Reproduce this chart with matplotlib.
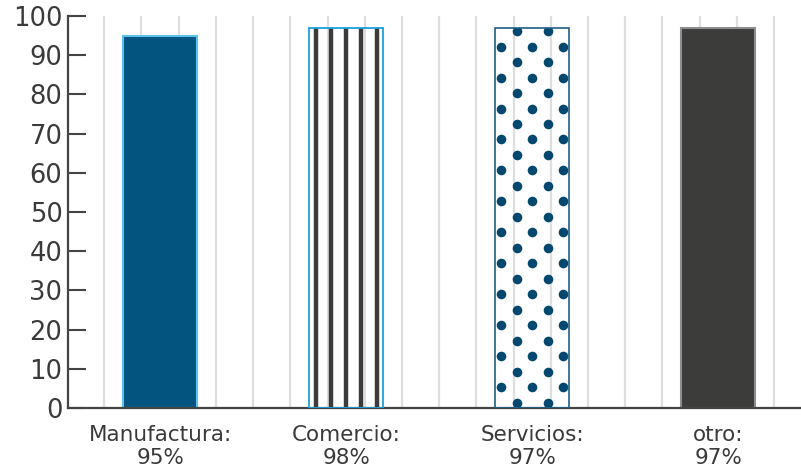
import matplotlib
matplotlib.use("Agg")
import matplotlib.pyplot as plt
import numpy as np

# data
categories = ["Manufactura", "Comercio", "Servicios", "otro"]
values = [95, 97, 97, 97]
pct_labels = ["95%", "98%", "97%", "97%"]
y_ticks = list(range(0, 101, 10))

TEXT = "#3a3a3a"
AXIS = "#444444"
GRID = "#dedede"

plt.rcParams["font.family"] = ["DejaVu Sans"]

fig = plt.figure(figsize=(8.01, 4.69), dpi=100)
ax = fig.add_axes([68 / 801, 61 / 469, 733 / 801, 392 / 469])

x = np.arange(len(categories))
width = 0.4

# light vertical grid every 0.2 category units
ax.set_xticks(np.arange(-0.3, 3.35, 0.2), minor=True)
ax.grid(True, which="minor", axis="x", color=GRID, lw=1.6)
ax.set_axisbelow(True)

bars = ax.bar(x, values, width=width, facecolor="none", edgecolor="none", zorder=2)

# Manufactura: solid dark blue
b = bars[0]
b.set_facecolor("#03547f")
b.set_edgecolor("#5cc3ee")
b.set_linewidth(1.5)

# Comercio: vertical dark stripes
b = bars[1]
b.set_edgecolor("#1b9fdc")
b.set_linewidth(1.3)
b.set_zorder(4)
stripe_x = b.get_x() + b.get_width() / 2 + np.arange(-2, 3) * 0.0823
vl = ax.vlines(stripe_x, 0, b.get_height(), colors="#3b3b3b", lw=3.2, zorder=3)
vl.set_clip_path(b)

# Servicios: staggered dot pattern
b = bars[2]
b.set_edgecolor("#1f5f86")
b.set_linewidth(1.2)
b.set_zorder(4)
cx = b.get_x() + b.get_width() / 2
col_off = np.arange(-2, 3) * 0.0833
row_y = np.arange(1.35, b.get_height() + 3, 3.95)
px, py = [], []
for i, ry in enumerate(row_y):
    for j, co in enumerate(col_off):
        if (i + j) % 2 == 1:
            px.append(cx + co)
            py.append(ry)
dots = ax.scatter(px, py, s=48, color="#02476d", linewidths=0, zorder=3)
dots.set_clip_path(b)

# otro: solid dark grey
b = bars[3]
b.set_facecolor("#3c3c3b")
b.set_edgecolor("#8e8e8e")
b.set_linewidth(1.5)

ax.set_xlim(-0.495, 3.445)
ax.set_ylim(0, 100)
ax.set_yticks(y_ticks)
ax.set_xticks(x)
ax.set_xticklabels([f"{c}:\n{p}" for c, p in zip(categories, pct_labels)],
                   fontsize=15.5, color=TEXT, linespacing=1.15)

ax.tick_params(axis="y", direction="in", length=13, width=1.5, color=AXIS,
               labelsize=18.5, labelcolor=TEXT, pad=4)
ax.tick_params(axis="x", which="major", length=0, pad=12.5)
ax.tick_params(axis="x", which="minor", length=0)

for s in ("top", "right"):
    ax.spines[s].set_visible(False)
for s in ("left", "bottom"):
    ax.spines[s].set_color(AXIS)
    ax.spines[s].set_linewidth(1.6)

fig.savefig("out.png", dpi=100)
